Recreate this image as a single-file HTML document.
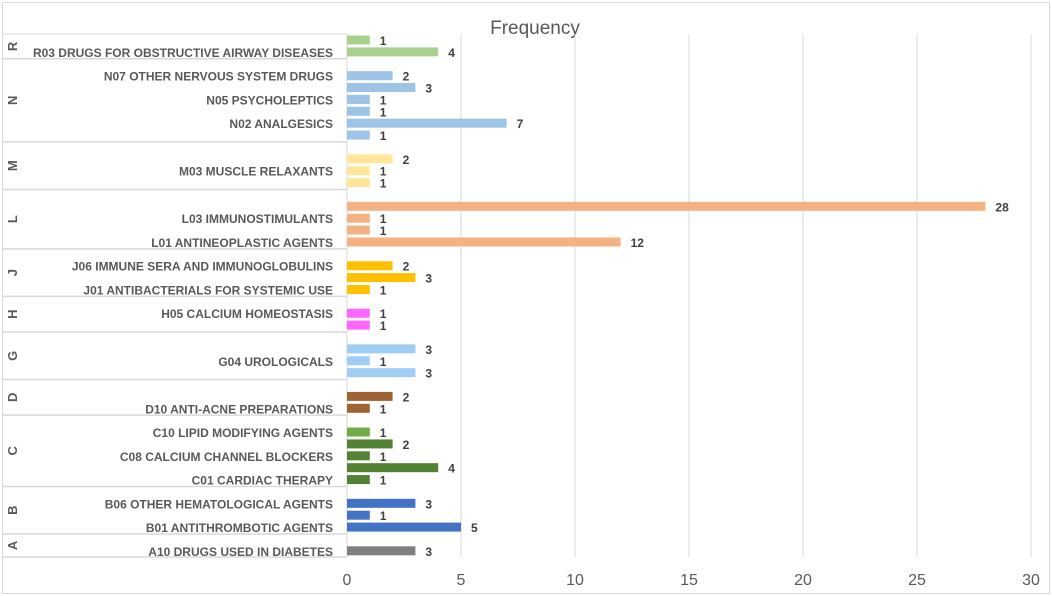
<!DOCTYPE html>
<html><head><meta charset="utf-8"><style>
body{margin:0;background:#fff;}
svg{display:block;font-family:"Liberation Sans",sans-serif;}
</style></head><body>
<svg id="chart" width="1052" height="596">
<rect x="2.5" y="2.5" width="1047" height="591" fill="#fff" stroke="#d9d9d9"/>
<text x="535" y="34" font-size="19" fill="#595959" text-anchor="middle">Frequency</text>
<g id="grid"></g><g id="cats"></g><g id="bars"></g><g id="ticks"></g>
</svg>
<script>
const values=[1,4, 2,3,1,1,7,1, 2,1,1, 28,1,1,12, 2,3,1, 1,1, 3,1,3, 2,1, 1,2,1,4,1, 3,1,5, 3];
const groups=["R","R","N","N","N","N","N","N","M","M","M","L","L","L","L","J","J","J","H","H","G","G","G","D","D","C","C","C","C","C","B","B","B","A"];
const labels=["","R03 DRUGS FOR OBSTRUCTIVE AIRWAY DISEASES","N07 OTHER NERVOUS SYSTEM DRUGS","","N05 PSYCHOLEPTICS","","N02 ANALGESICS","","","M03 MUSCLE RELAXANTS","","","L03 IMMUNOSTIMULANTS","","L01 ANTINEOPLASTIC AGENTS","J06 IMMUNE SERA AND IMMUNOGLOBULINS","","J01 ANTIBACTERIALS FOR SYSTEMIC USE","H05 CALCIUM HOMEOSTASIS","","","G04 UROLOGICALS","","","D10 ANTI-ACNE PREPARATIONS","C10 LIPID MODIFYING AGENTS","","C08 CALCIUM CHANNEL BLOCKERS","","C01 CARDIAC THERAPY","B06 OTHER HEMATOLOGICAL AGENTS","","B01 ANTITHROMBOTIC AGENTS","A10 DRUGS USED IN DIABETES"];
const colors=["#a9d18e","#a9d18e","#9dc3e6","#9dc3e6","#9dc3e6","#9dc3e6","#9dc3e6","#9dc3e6","#ffe699","#ffe699","#ffe699","#f4b183","#f4b183","#f4b183","#f4b183","#ffc000","#ffc000","#ffc000","#ff66ff","#ff66ff","#9fcdf4","#9fcdf4","#9fcdf4","#9e6332","#9e6332","#70ad47","#548235","#548235","#548235","#548235","#4472c4","#4472c4","#4472c4","#7f7f7f"];
const ticks=[0,5,10,15,20,25,30];
const NS="http://www.w3.org/2000/svg";
const x0=347,x1=1031,xmax=30,yTop=34,yBottom=557;
const X=v=>x0+(x1-x0)*v/xmax;
const rows=[];let r=0;
for(let i=0;i<values.length;i++){if(i>0&&groups[i]!==groups[i-1])r++;rows.push(r);r++;}
const step=11.88,y0=40;
const Y=i=>y0+i*step;
function mk(t,a,p){const e=document.createElementNS(NS,t);for(const k in a)e.setAttribute(k,a[k]);p.appendChild(e);return e;}
const grid=document.getElementById('grid'),cats=document.getElementById('cats'),bars=document.getElementById('bars'),tk=document.getElementById('ticks');
ticks.forEach(t=>{
 if(t>0){const l=mk('line',{x1:X(t),x2:X(t),y1:yTop,y2:yBottom,stroke:'#d9d9d9'},grid);
 
 }
 const tx=mk('text',{x:X(t),y:585,'font-size':16,fill:'#595959','text-anchor':'middle'},tk);tx.textContent=t;
 
 
});
const ax=mk('line',{x1:x0,x2:x0,y1:yTop,y2:yBottom,stroke:'#d9d9d9'},cats);


const tl=mk('line',{x1:3,x2:x0,y1:yTop,y2:yTop,stroke:'#d9d9d9'},cats);


const gl=[];groups.forEach((g,i)=>{if(!gl.length||gl[gl.length-1].g!==g)gl.push({g,s:rows[i],e:rows[i]});else gl[gl.length-1].e=rows[i];});
gl.forEach((G,k)=>{
 const yb=k<gl.length-1?Y(G.e+1)-5:yBottom;
 const l=mk('line',{x1:3,x2:x0,y1:yb,y2:yb,stroke:'#d9d9d9','stroke-width':1.5},cats);
 
 
 const ys=k===0?yTop:Y(G.s-1)-5;const yc=(ys+yb)/2;
 const t=mk('text',{x:0,y:0,'font-size':13,'font-weight':'bold',fill:'#595959','text-anchor':'middle',transform:`translate(17,${yc}) rotate(-90)`},cats);t.textContent=G.g;
 
 
});
values.forEach((v,i)=>{
 const y=Y(rows[i]);
 const b=mk('rect',{x:x0,y:y-4.5,width:X(v)-x0,height:9,fill:colors[i]},bars);
 
 
 const t=mk('text',{x:X(v)+10,y:y+5,'font-size':12,'font-weight':'bold',fill:'#404040'},bars);t.textContent=v;
 
 
 if(labels[i]){const c=mk('text',{x:333,y:y+5,'font-size':12,'font-weight':'bold',fill:'#595959','text-anchor':'end'},cats);c.textContent=labels[i];
 
 }
});
</script>
</body></html>
